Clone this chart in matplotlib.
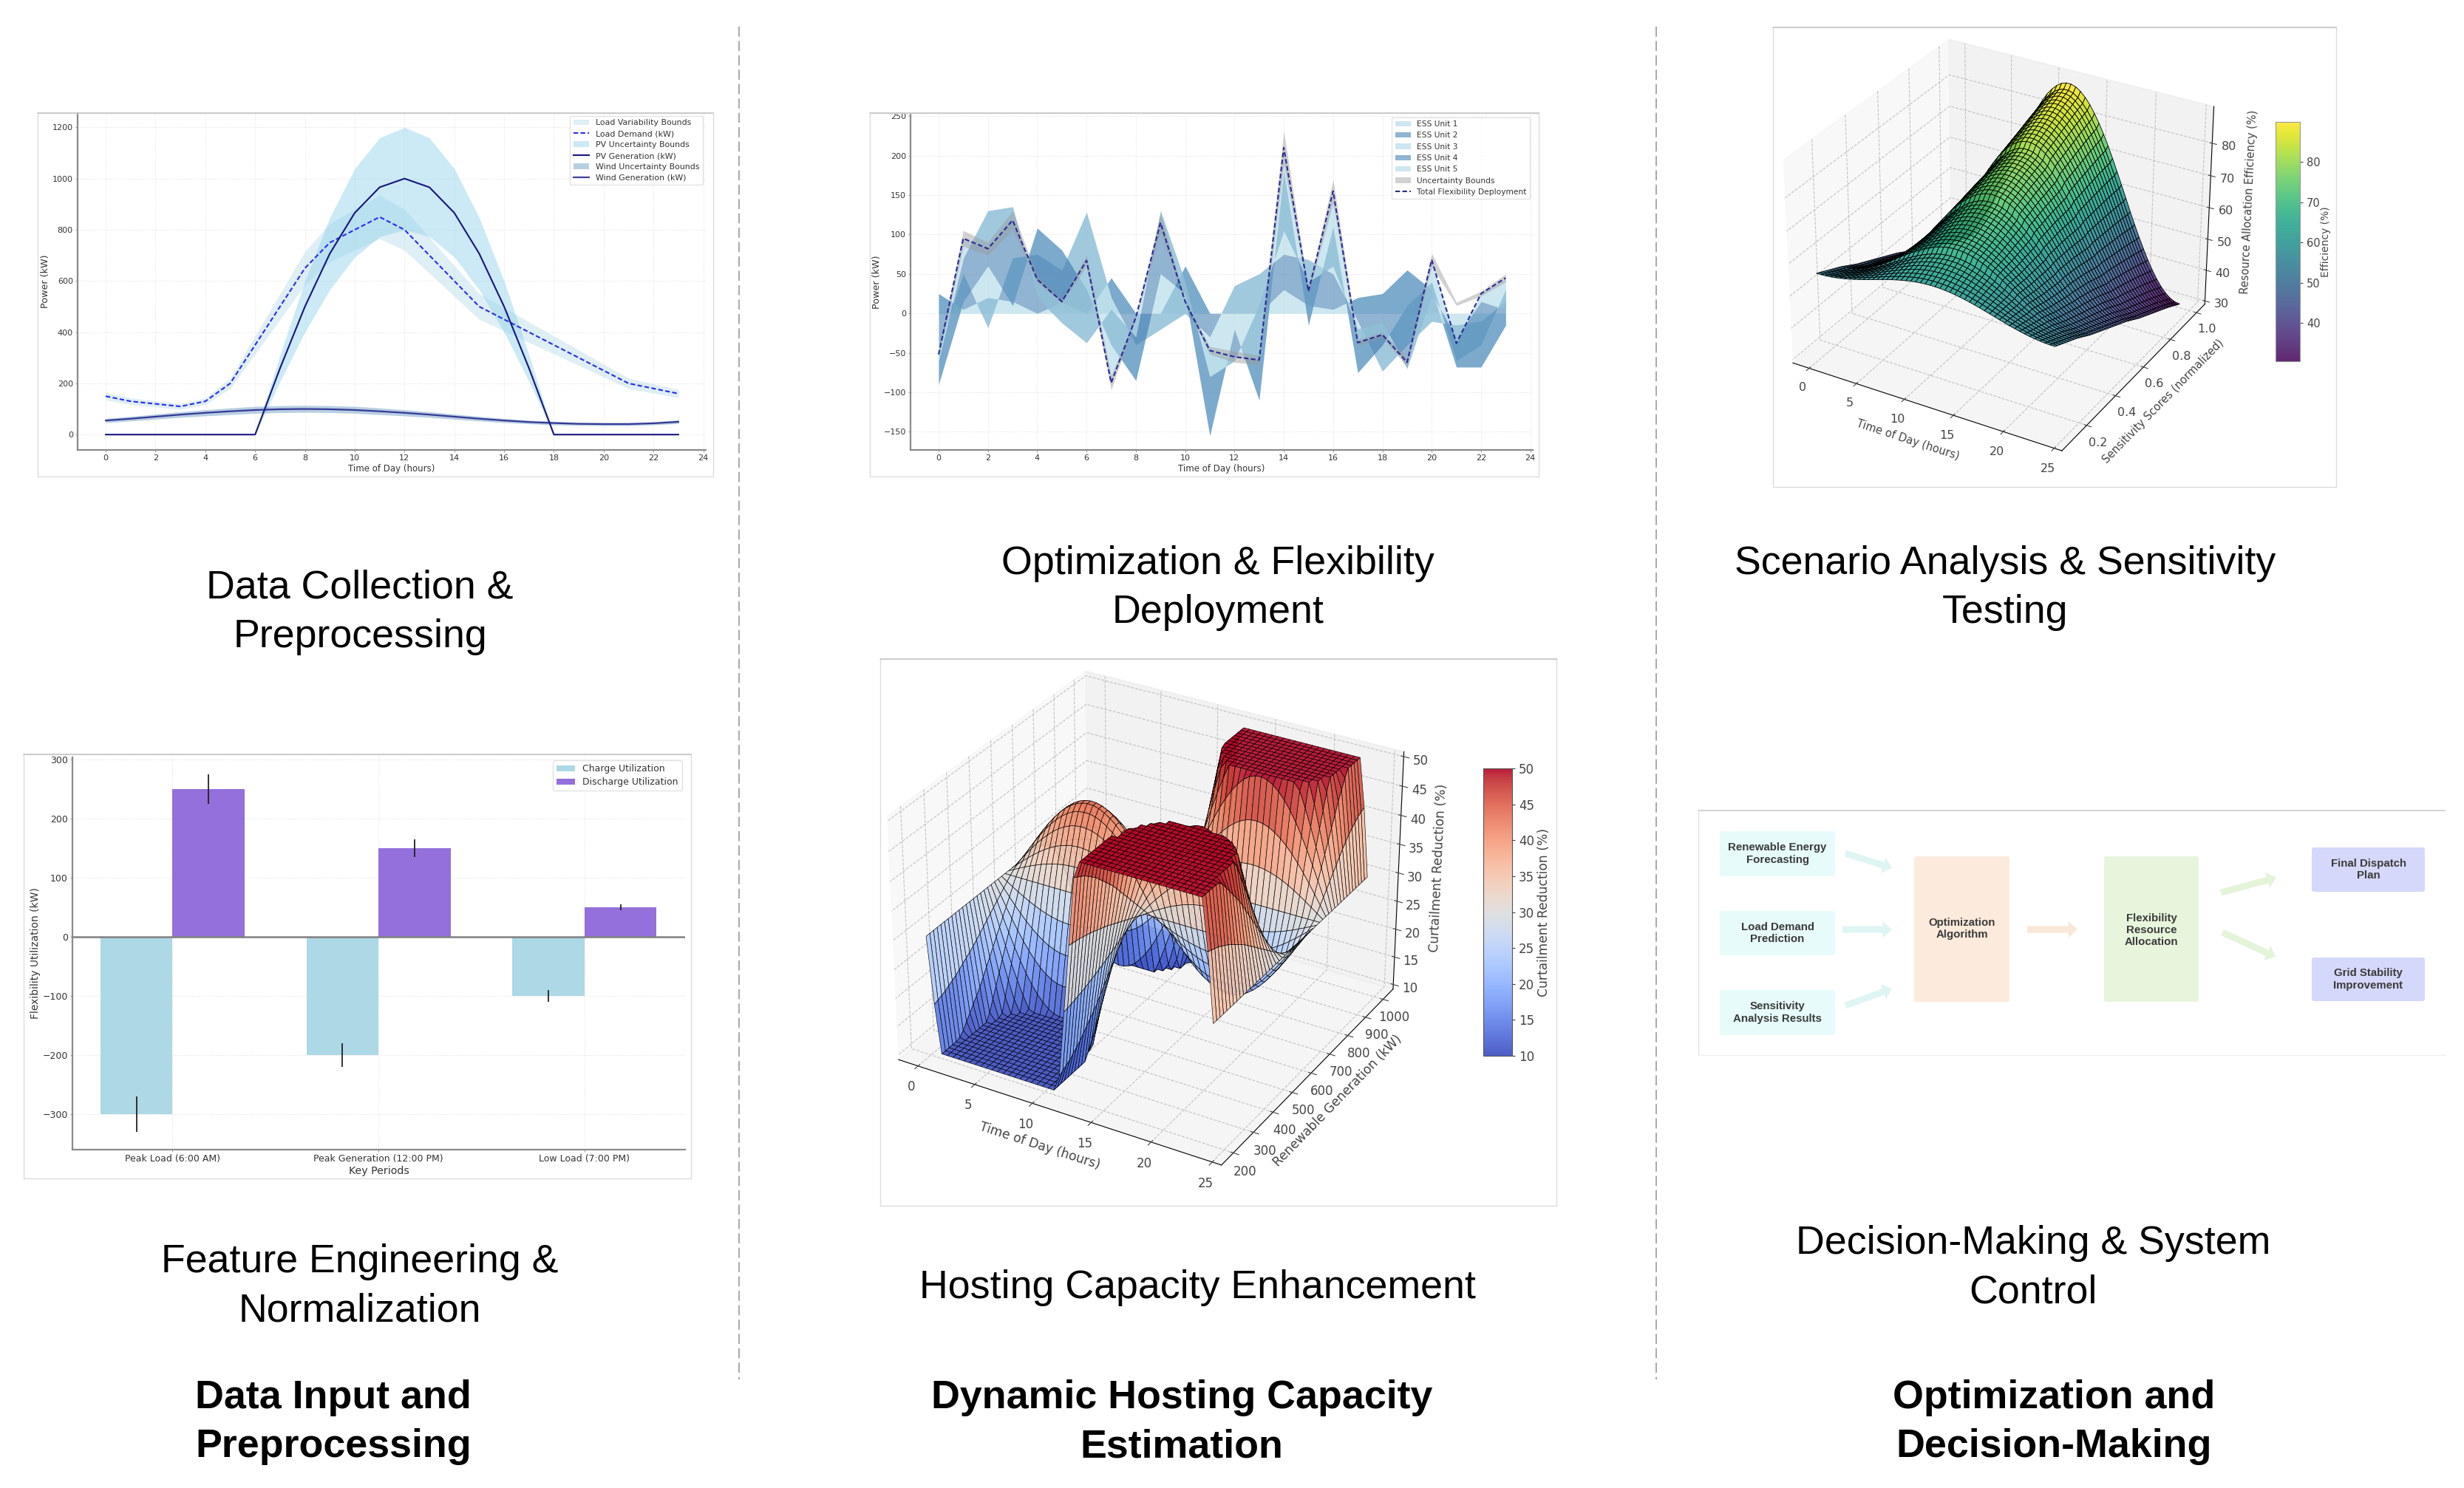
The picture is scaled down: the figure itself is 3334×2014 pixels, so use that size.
import numpy as np
import matplotlib
matplotlib.use("Agg")
import matplotlib.pyplot as plt
from matplotlib.patches import Rectangle, FancyBboxPatch, FancyArrowPatch

# ---------- panel A data ----------
hours = list(range(24))
load_kw = [150,130,120,110,130,200,350,500,650,750,800,850,800,700,600,500,450,400,350,300,250,200,180,160]
load_lo = [135,117,108,99,117,180,315,450,585,675,720,765,720,630,540,450,405,360,315,270,225,180,162,144]
load_hi = [165,143,132,121,143,220,385,550,715,825,880,935,880,770,660,550,495,440,385,330,275,220,198,176]
pv_kw = [0,0,0,0,0,0,0,259,500,707,866,966,1000,966,866,707,500,259,0,0,0,0,0,0]
pv_lo = [0,0,0,0,0,0,0,207,400,566,693,773,800,773,693,566,400,207,0,0,0,0,0,0]
pv_hi = [0,0,0,0,0,0,0,311,600,848,1039,1159,1200,1159,1039,848,600,311,0,0,0,0,0,0]
wind_kw = [55,62,70,78,85,91,96,99,100,99,96,91,85,78,70,62,55,49,45,42,41,41,44,50]
wind_lo = [47,53,60,67,73,78,83,86,87,86,83,78,73,67,60,53,47,42,38,36,35,35,38,43]
wind_hi = [63,71,80,89,97,104,110,113,114,113,110,104,97,89,80,71,63,56,52,48,47,47,50,57]

# ---------- panel B data ----------
ess_1 = [25,5,20,15,0,14,0,45,0,0,60,0,0,0,30,10,5,20,25,55,30,-68,-68,-15]
ess_2 = [-70,45,-38,55,75,41,128,-25,-40,-20,-60,-30,35,50,45,58,45,-30,-98,-95,-40,53,58,30]
ess_3 = [-45,-35,78,-60,33,25,-98,-60,-45,70,25,-125,-55,-160,105,-83,60,-65,33,50,50,-45,-30,15]
ess_4 = [30,55,70,125,-88,-92,-67,45,55,80,15,75,-40,120,-75,55,-50,55,30,-80,-15,30,55,-25]
ess_5 = [8,25,-48,-17,23,27,104,-93,25,-15,-25,33,5,-69,105,-12,95,-17,-17,8,43,-8,10,40]
total_lo = [-57,85,74,106,39,13,60,-97,-6,103,13,-52,-62,-65,189,25,140,-41,-30,-68,60,10,22,40]
total_hi = [-47,105,90,130,47,17,74,-79,-4,127,17,-42,-48,-53,231,31,170,-33,-24,-56,76,14,28,50]

# ---------- panel C data (half-hourly profile + sensitivity profiles) ----------
day_shape = [0,.004,.016,.036,.064,.099,.141,.188,.241,.297,.357,.419,.484,.548,.611,.673,.732,.786,.836,.880,
             .919,.950,.974,.991,.999,.999,.991,.974,.950,.919,.880,.836,.786,.732,.673,.611,.548,.484,.419,.357,
             .297,.241,.188,.141,.099,.064,.036,.016,.004,0]
eff_floor = [56,55.5,55,54.5,54,53.5,53,52.5,52,51.4,50.8,50.2,49.6,49,48.5,48,47.5,47,46.5,46,45.5,45,44.5,44,43.5,
             43,42.5,42,41.4,40.8,40.2,39.6,39,38.5,38,37.5,37,36.5,36,35.5,35,34.5,34,33.5,33,32.4,31.9,31.3,30.7,30.2]
eff_lift = [7,8,9,10,11,12,13,14,16,17,18,19,20,21,22,23,24,25,26,27,28,30,31,32,33,34,35,36,37,38,39,40,41,42,
            44,45,46,47,48,49,50,51,52,53,54,55,56,57,58,59.8]

# ---------- panel D data ----------
periods = ["Peak Load (6:00 AM)", "Peak Generation (12:00 PM)", "Low Load (7:00 PM)"]
charge_kw = [-300, -200, -100]
discharge_kw = [250, 150, 50]
charge_err = [30, 20, 10]
discharge_err = [25, 15, 5]

# ---------- panel E data (half-hourly profile + generation profile) ----------
day_wave = [0,.128,.254,.375,.491,.598,.696,.782,.855,.914,.959,.987,.9995,.995,.975,.938,.886,.820,.741,.649,.545,.434,.317,.191,.064,
            -.064,-.191,-.317,-.434,-.545,-.649,-.741,-.820,-.886,-.938,-.975,-.995,-.9995,-.987,-.959,-.914,-.855,-.782,-.696,-.598,-.491,-.375,-.254,-.128,0]
gen_swing = [90,88,86,84,81,78,75,71,67,63,59,55,50,45,40,35,30,25,20,15,10,5,0,-4,-7,-10,-12,-13,-13,-12,-10,-7,-4,0,
             6,13,20,27,34,41,48,55,62,68,74,79,83,87,90,92]

# ---------- text ----------
captions = [("Data Collection &\nPreprocessing", 487, 829, "normal"),
            ("Optimization & Flexibility\nDeployment", 1648, 796, "normal"),
            ("Scenario Analysis & Sensitivity\nTesting", 2713, 796, "normal"),
            ("Feature Engineering &\nNormalization", 487, 1741, "normal"),
            ("Hosting Capacity Enhancement", 1620, 1743, "normal"),
            ("Decision-Making & System\nControl", 2751, 1716, "normal"),
            ("Data Input and\nPreprocessing", 451, 1925, "bold"),
            ("Dynamic Hosting Capacity\nEstimation", 1599, 1925, "bold"),
            ("Optimization and\nDecision-Making", 2779, 1925, "bold")]

W, H = 3334, 2014
fig = plt.figure(figsize=(W/100, H/100), dpi=100, facecolor="white")
ARIAL = ["Liberation Sans"]
TXT = "#333333"

def rect(x0, y0, x1, y1):
    return [x0/W, 1-y1/H, (x1-x0)/W, (y1-y0)/H]

def style2d(ax, ts=8):
    for s in ("top", "right"):
        ax.spines[s].set_visible(False)
    for s in ("left", "bottom"):
        ax.spines[s].set_color("#8a8a8a")
        ax.spines[s].set_linewidth(1.6)
    ax.grid(True, linestyle=":", color="#cccccc", alpha=.55, linewidth=.8)
    ax.set_axisbelow(True)
    ax.tick_params(labelsize=ts, colors=TXT, length=2.5, width=.6, color="#888888", pad=2)

LEG = dict(loc="upper right", borderaxespad=.35, framealpha=.8, edgecolor="#dddddd",
           labelcolor=TXT, fancybox=True, handlelength=2)

# ---------- A ----------
axA = fig.add_axes(rect(105, 153, 955, 609))
style2d(axA)
axA.fill_between(hours, load_lo, load_hi, color="#ADD8E6", alpha=.4, lw=0, label="Load Variability Bounds")
axA.plot(hours, load_kw, color="#2a2af0", ls=(0, (3, 1.6)), lw=1.5, label="Load Demand (kW)")
axA.fill_between(hours, pv_lo, pv_hi, color="#87CEEB", alpha=.42, lw=0, label="PV Uncertainty Bounds")
axA.plot(hours, pv_kw, color="#15157f", lw=1.5, label="PV Generation (kW)")
axA.fill_between(hours, wind_lo, wind_hi, color="#4682B4", alpha=.38, lw=0, label="Wind Uncertainty Bounds")
axA.plot(hours, wind_kw, color="#1f1f8a", lw=1.6, alpha=.85, label="Wind Generation (kW)")
axA.set_xlim(-1.13, 24.1)
axA.set_ylim(-60, 1256)
axA.set_xticks(range(0, 25, 2))
axA.set_xlabel("Time of Day (hours)", fontsize=8.5, color=TXT, labelpad=2)
axA.set_ylabel("Power (kW)", fontsize=9.2, color=TXT, labelpad=2)
axA.legend(fontsize=7.9, labelspacing=.45, **LEG)

# ---------- B ----------
axB = fig.add_axes(rect(1232, 155, 2074, 609))
style2d(axB)
units = [ess_1, ess_2, ess_3, ess_4, ess_5]
unit_cols = ["#ADD8E6", "#4682B4", "#ADD8E6", "#4682B4", "#ADD8E6"]
base = np.zeros(24)
for k, (u, c) in enumerate(zip(units, unit_cols)):
    top = base + np.array(u)
    axB.fill_between(hours, base, top, color=c, alpha=.6, lw=0, label=f"ESS Unit {k+1}")
    base = top
axB.fill_between(hours, total_lo, total_hi, color="#9a9a9a", alpha=.45, lw=0, label="Uncertainty Bounds")
axB.plot(hours, base, color="#2a2a9a", ls=(0, (3, 1.6)), lw=1.5, label="Total Flexibility Deployment")
axB.set_xlim(-1.14, 24.1)
axB.set_ylim(-173, 252)
axB.set_xticks(range(0, 25, 2))
axB.set_xlabel("Time of Day (hours)", fontsize=8.5, color=TXT, labelpad=2)
axB.set_ylabel("Power (kW)", fontsize=9.2, color=TXT, labelpad=2)
axB.legend(fontsize=7.7, labelspacing=.5, **LEG)

# ---------- D ----------
axD = fig.add_axes(rect(98, 1025, 927, 1556))
style2d(axD, 9)
pos = np.arange(len(periods))
axD.bar(pos-.175, charge_kw, .35, yerr=charge_err, color="#ADD8E6", label="Charge Utilization",
        error_kw=dict(ecolor="#222222", elinewidth=1.3))
axD.bar(pos+.175, discharge_kw, .35, yerr=discharge_err, color="#9370DB", label="Discharge Utilization",
        error_kw=dict(ecolor="#222222", elinewidth=1.3))
axD.axhline(0, color="#808080", lw=1.8)
axD.set_xticks(pos, periods)
axD.set_xlim(-.486, 2.489)
axD.set_ylim(-360, 304)
axD.set_xlabel("Key Periods", fontsize=10.2, color=TXT, labelpad=2)
axD.set_ylabel("Flexibility Utilization (kW)", fontsize=10, color=TXT, labelpad=2)
axD.legend(fontsize=9, labelspacing=.4, **LEG)

# ---------- 3D helpers ----------
def style3d(ax, fs):
    ax.tick_params(labelsize=fs, colors="#444444", pad=2)
    for a in (ax.xaxis, ax.yaxis, ax.zaxis):
        a._axinfo["grid"].update(linestyle="--", linewidth=.8, color="#c2c2c2")
        a._axinfo["axisline"]["color"] = (.25, .25, .25, 1)

# ---------- C ----------
axC = fig.add_axes(rect(2377, 3, 3025, 651), projection="3d")
t_mesh = np.linspace(0, 24, 50)
s_mesh = np.linspace(.1, 1.0, 50)
Tc, Sc = np.meshgrid(t_mesh, s_mesh)
Zc = np.outer(eff_lift, day_shape) + np.array(eff_floor)[:, None]
sfC = axC.plot_surface(Tc, Sc, Zc, cmap="viridis", edgecolor="k", linewidth=.6, alpha=.85, vmin=30.5, vmax=89.9)
axC.set_xticks([0, 5, 10, 15, 20, 25])
axC.set_yticks([.2, .4, .6, .8, 1.0])
axC.set_zticks([30, 40, 50, 60, 70, 80])
style3d(axC, 11.5)
axC.set_xlabel("Time of Day (hours)", fontsize=10.5, color="#444444", labelpad=3)
axC.set_ylabel("Sensitivity Scores (normalized)", fontsize=10.5, color="#444444", labelpad=3)
axC.set_zlabel("Resource Allocation Efficiency (%)", fontsize=10.5, color="#444444", labelpad=3)
caxC = fig.add_axes(rect(3079, 165, 3112, 489))
cbC = fig.colorbar(sfC, cax=caxC)
cbC.set_ticks([40, 50, 60, 70, 80])
cbC.ax.tick_params(labelsize=10.5, colors="#444444", length=3)
cbC.set_label("Efficiency (%)", fontsize=10, color="#444444", labelpad=0)
cbC.outline.set_edgecolor("#999999")

# ---------- E ----------
axE = fig.add_axes(rect(1157, 848, 1935, 1626), projection="3d")
g_mesh = np.linspace(200, 1000, 50)
Te, Ge = np.meshgrid(t_mesh, g_mesh)
Ze = np.clip(30 - np.outer(gen_swing, day_wave), 10, 50)
sfE = axE.plot_surface(Te, Ge, Ze, cmap="coolwarm", edgecolor="k", linewidth=.45, alpha=.9, vmin=10, vmax=50)
axE.set_xticks([0, 5, 10, 15, 20, 25])
axE.set_yticks(range(200, 1001, 100))
axE.set_zticks(range(10, 51, 5))
style3d(axE, 12)
axE.set_xlabel("Time of Day (hours)", fontsize=12.3, color="#444444", labelpad=3)
axE.set_ylabel("Renewable Generation (kW)", fontsize=12.3, color="#444444", labelpad=3)
axE.set_zlabel("Curtailment Reduction (%)", fontsize=12.3, color="#444444", labelpad=3)
caxE = fig.add_axes(rect(2007, 1040, 2046, 1429))
cbE = fig.colorbar(sfE, cax=caxE)
cbE.set_ticks(list(range(10, 51, 5)))
cbE.ax.tick_params(labelsize=12, colors="#444444", length=3)
cbE.set_label("Curtailment Reduction (%)", fontsize=12.3, color="#444444", labelpad=3)
cbE.outline.set_edgecolor("#555555")

# ---------- overlay in pixel coordinates ----------
ov = fig.add_axes([0, 0, 1, 1], zorder=10)
ov.set_xlim(0, W)
ov.set_ylim(H, 0)
ov.axis("off")
ov.patch.set_alpha(0)

frames = [(51, 153, 965, 645), (1177, 153, 2082, 645), (2399, 37, 3161, 659), (32, 1021, 935, 1595), (1191, 892, 2106, 1632)]
for x0, y0, x1, y1 in frames:
    ov.add_patch(Rectangle((x0, y0), x1-x0, y1-y0, fill=False, ec="#dcdcdc", lw=1))
    ov.plot([x0, x1], [y0, y0], color="#c4c4c4", lw=1.1)
ov.plot([2298, 3308], [1097, 1097], color="#c8c8c8", lw=1.1)
ov.plot([2298, 2298], [1097, 1428], color="#e4e4e4", lw=1)
ov.plot([2298, 3308], [1428, 1428], color="#efefef", lw=1)

for sx in (1000, 2241):
    ov.plot([sx, sx], [36, 1867], color="#a8a8a8", lw=1.4, ls=(0, (7, 3)))

for txt, cx, cy, wt in captions:
    ov.text(cx, cy, txt, ha="center", va="center", family=ARIAL, fontsize=38.7, weight=wt,
            color="black", linespacing=1.42)

boxes = [(2327, 1125, 2483, 1186, "#E6FBFA", "Renewable Energy\nForecasting"),
         (2327, 1233, 2483, 1293, "#E6FBFA", "Load Demand\nPrediction"),
         (2327, 1340, 2483, 1401, "#E6FBFA", "Sensitivity\nAnalysis Results"),
         (2590, 1159, 2719, 1356, "#FCEADC", "Optimization\nAlgorithm"),
         (2847, 1159, 2975, 1356, "#E6F5DC", "Flexibility\nResource\nAllocation"),
         (3128, 1147, 3281, 1207, "#D5D8FA", "Final Dispatch\nPlan"),
         (3128, 1296, 3281, 1355, "#D5D8FA", "Grid Stability\nImprovement")]
box_text_y = {"Optimization\nAlgorithm": 1257, "Flexibility\nResource\nAllocation": 1259}
for x0, y0, x1, y1, col, label in boxes:
    ov.add_patch(FancyBboxPatch((x0+2, y0+2), x1-x0-4, y1-y0-4, boxstyle="round,pad=2,rounding_size=3", fc=col, ec="none"))
    ov.text((x0+x1)/2, box_text_y.get(label, (y0+y1)/2), label, ha="center", va="center", family=ARIAL,
            weight="bold", fontsize=10.8, color="#3a3a3a", linespacing=1.2)

arrows = [(2497, 1155, 2560, 1175, "#DFF5F4"), (2493, 1258, 2560, 1258, "#DFF5F4"), (2497, 1361, 2560, 1338, "#DFF5F4"),
          (2743, 1258, 2811, 1258, "#FBE7D8"), (3005, 1208, 3080, 1188, "#E4F4D9"), (3007, 1262, 3079, 1295, "#E4F4D9")]
for x0, y0, x1, y1, col in arrows:
    ov.add_patch(FancyArrowPatch((x0, y0), (x1, y1), arrowstyle="simple,head_width=16,tail_width=6.5,head_length=9",
                                 color=col, lw=0, shrinkA=0, shrinkB=0))

fig.savefig("out.png", dpi=100)
